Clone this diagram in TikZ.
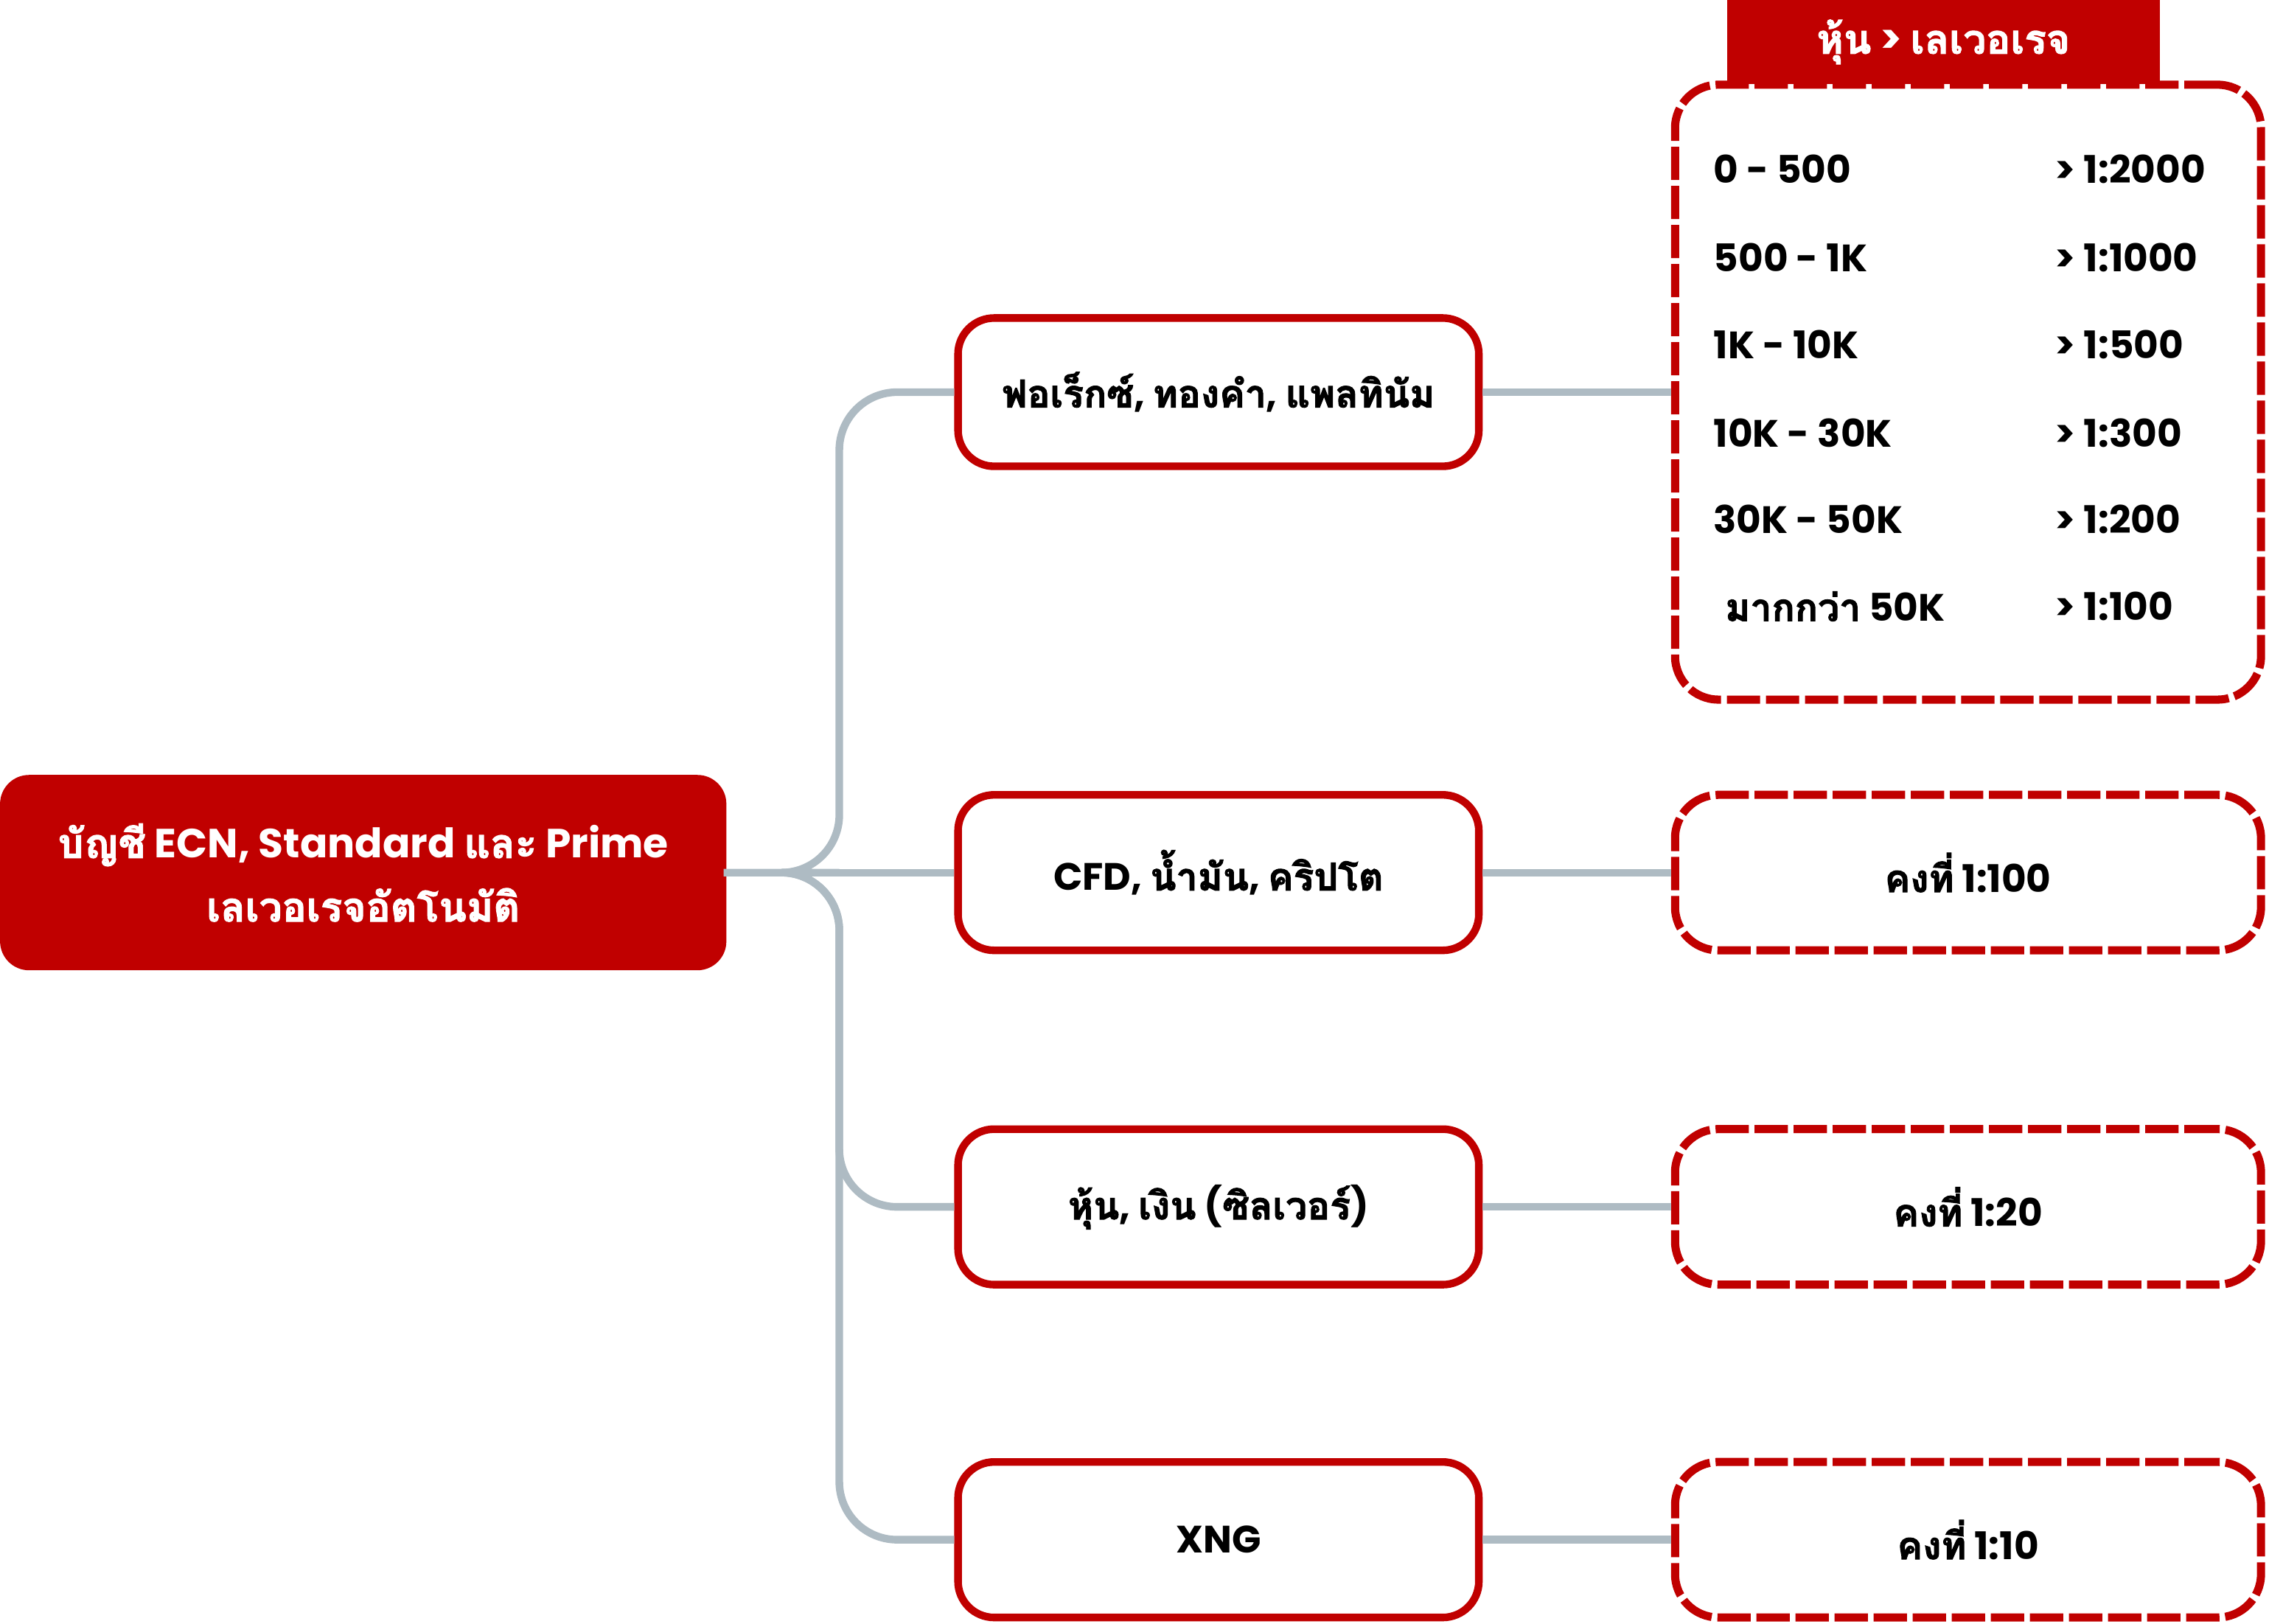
\documentclass[tikz,border=0pt]{standalone}
\usepackage{fontspec}
\setmainfont{Poppins}
\newfontfamily\thaifont[Script=Thai, BoldFeatures={FakeBold=2}]{Loma}
\newcommand\tha[1]{{\thaifont #1}}
\definecolor{Accred}{HTML}{C00000}
\definecolor{Lingray}{HTML}{AEBBC3}
\tikzset{
    root/.style={rectangle, rounded corners=0.4cm, fill=Accred, text=white,
        minimum width=10.04cm, minimum height=2.7cm, align=center,
        font=\bfseries\fontsize{16}{25}\selectfont},
    group/.style={rectangle, rounded corners=0.5cm, draw=Accred, line width=3pt,
        fill=white, minimum width=7.2cm, minimum height=2.05cm,
        font=\bfseries\fontsize{15}{18}\selectfont},
    lev/.style={rectangle, rounded corners=0.6cm, draw=Accred, line width=3.2pt,
        dash pattern=on 0.46cm off 0.08cm, minimum width=8.1cm},
    head/.style={rectangle, fill=Accred, text=white, minimum width=5.98cm,
        minimum height=1.16cm, font=\bfseries\fontsize{16}{18}\selectfont},
    row/.style={anchor=west, font=\bfseries\fontsize{15}{18}\selectfont},
    link/.style={draw=Lingray, line width=3pt, rounded corners=0.8cm}
}
\begin{document}
\begin{tikzpicture}[x=0.02cm, y=-0.02cm]
    \useasboundingbox (0,0) rectangle (1568,1122);

    % root
    \node (root) [root] at (251,603) {\tha{บัญชี} ECN, Standard \tha{และ} Prime\\\tha{เลเวอเรจอัตโนมัติ}};

    % groups
    \node (fx)    [group] at (842,271)  {\tha{ฟอเร็กซ์}, \tha{ทองคำ}, \tha{แพลทินัม}};
    \node (cfd)   [group, minimum height=2.15cm] at (842,603)  {CFD, \tha{น้ำมัน}, \tha{คริปโต}};
    \node (stock) [group, minimum height=2.15cm] at (842,834)  {\tha{หุ้น}, \tha{เงิน} (\tha{ซิลเวอร์})};
    \node (xng)   [group, minimum height=2.15cm] at (842,1064) {XNG};

    % leverage boxes
    \node (tab)  [lev, minimum height=8.5cm] at (1360,271) {};
    \node (head) [head] at (1343,29) {\tha{หุ้น} > \tha{เลเวอเรจ}};
    \node (fix1) [lev, minimum height=2.15cm, font=\bfseries\fontsize{15}{18}\selectfont] at (1360,603)  {\tha{คงที่} 1:100};
    \node (fix2) [lev, minimum height=2.15cm, font=\bfseries\fontsize{15}{18}\selectfont] at (1360,834)  {\tha{คงที่} 1:20};
    \node (fix3) [lev, minimum height=2.15cm, font=\bfseries\fontsize{15}{18}\selectfont] at (1360,1064) {\tha{คงที่} 1:10};

    % table rows
    \foreach \lo/\hi/\y in {0 - 500/1:2000/117, 500 - 1K/1:1000/178, 1K - 10K/1:500/238,
                            10K - 30K/1:300/299, 30K - 50K/1:200/359}{
        \node [row] at (1178,\y) {\lo};
        \node [row] at (1414,\y) {> \hi};
    }
    \node [row] at (1186,419) {\tha{มากกว่า} 50K};
    \node [row] at (1414,419) {> 1:100};

    % connectors
    \coordinate (fork) at (540,603);
    \draw [link] (root.east) -- (fork) -| (580,271) -- (fx.west);
    \draw [link] (root.east) -- (cfd.west);
    \draw [link] (fork) -| (580,834) -- (stock.west);
    \draw [link] (fork) -| (580,1064) -- (xng.west);
    \draw [link] (fx.east) -- (tab.west);
    \draw [link] (cfd.east) -- (fix1.west);
    \draw [link] (stock.east) -- (fix2.west);
    \draw [link] (xng.east) -- (fix3.west);
\end{tikzpicture}
\end{document}
